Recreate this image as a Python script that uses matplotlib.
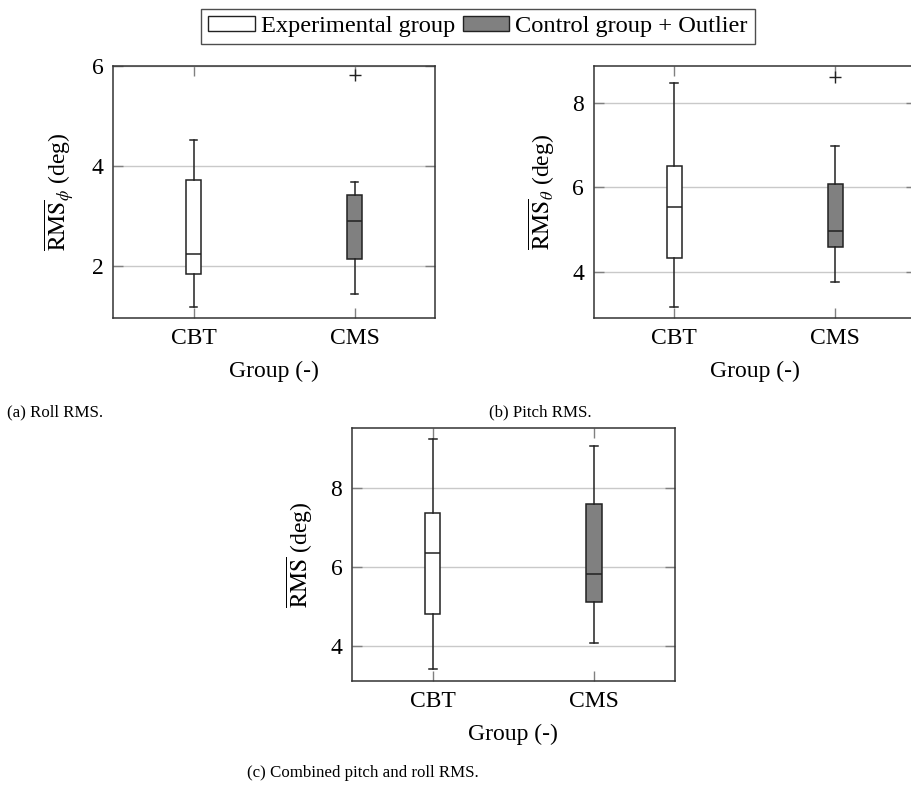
import matplotlib
matplotlib.use("Agg")
import matplotlib.pyplot as plt
from matplotlib.patches import Patch

plt.rcParams['font.family'] = ['Liberation Serif', 'DejaVu Serif']
plt.rcParams['mathtext.fontset'] = 'stix'

# group labels
groups = ["CBT", "CMS"]

# box statistics: [whislo, q1, med, q3, whishi]
roll_cbt = [1.19, 1.85, 2.24, 3.73, 4.53]
roll_cms = [1.45, 2.14, 2.90, 3.42, 3.69]
roll_outliers = [[], [5.83]]

pitch_cbt = [3.18, 4.34, 5.53, 6.51, 8.45]
pitch_cms = [3.78, 4.60, 4.97, 6.08, 6.98]
pitch_outliers = [[], [8.59]]

comb_cbt = [3.41, 4.81, 6.37, 7.36, 9.24]
comb_cms = [4.07, 5.11, 5.82, 7.61, 9.08]
comb_outliers = [[], []]

FS = 17
GRID = '#c9c9c9'
TICK = '#808080'
FILL = ['white', '#808080']


def stats(vals, fl):
    lo, q1, med, q3, hi = vals
    return dict(whislo=lo, q1=q1, med=med, q3=q3, whishi=hi, fliers=fl)


def draw(ax, cbt, cms, outl, ylim, yticks, ylabel):
    st = [stats(cbt, outl[0]), stats(cms, outl[1])]
    bp = ax.bxp(st, positions=[1, 2], widths=0.095, patch_artist=True,
                showfliers=True, manage_ticks=False,
                boxprops=dict(edgecolor='#222222', linewidth=1.1),
                medianprops=dict(color='#222222', linewidth=1.1),
                whiskerprops=dict(color='#222222', linewidth=1.1),
                capprops=dict(color='#222222', linewidth=1.1),
                flierprops=dict(marker='+', markeredgecolor='#222222',
                                markersize=9, markeredgewidth=1.0))
    for patch, c in zip(bp['boxes'], FILL):
        patch.set_facecolor(c)
    ax.set_xlim(0.5, 2.5)
    ax.set_ylim(*ylim)
    ax.set_xticks([1, 2])
    ax.set_xticklabels(groups, fontsize=FS)
    ax.set_yticks(yticks)
    ax.set_yticklabels([str(t) for t in yticks], fontsize=FS)
    ax.yaxis.grid(True, color=GRID, linewidth=1.0)
    ax.set_axisbelow(True)
    ax.tick_params(direction='in', length=7.5, width=1.0, color=TICK,
                   top=True, right=True, pad=7)
    for s in ax.spines.values():
        s.set_color('#333333')
        s.set_linewidth(1.1)
    ax.set_xlabel("Group (-)", fontsize=FS, labelpad=9)
    ax.set_ylabel(ylabel, fontsize=FS, labelpad=11)


fig = plt.figure(figsize=(9.12, 7.85), dpi=100)

ax_a = fig.add_axes([0.1239, 0.5949, 0.3531, 0.3210])
ax_b = fig.add_axes([0.6511, 0.5949, 0.3531, 0.3210])
ax_c = fig.add_axes([0.3860, 0.1325, 0.3538, 0.3223])

draw(ax_a, roll_cbt, roll_cms, roll_outliers, (0.96, 6.0), [2, 4, 6],
     r"$\overline{\mathrm{RMS}}_{\phi}$ (deg)")
draw(ax_b, pitch_cbt, pitch_cms, pitch_outliers, (2.92, 8.86), [4, 6, 8],
     r"$\overline{\mathrm{RMS}}_{\theta}$ (deg)")
draw(ax_c, comb_cbt, comb_cms, comb_outliers, (3.11, 9.53), [4, 6, 8],
     r"$\overline{\mathrm{RMS}}$ (deg)")

# sub captions
fig.text(7 / 912, 1 - 412 / 785, "(a) Roll RMS.", fontsize=12.2, va='center', ha='left')
fig.text(489 / 912, 1 - 412 / 785, "(b) Pitch RMS.", fontsize=12.2, va='center', ha='left')
fig.text(247 / 912, 1 - 773 / 785, "(c) Combined pitch and roll RMS.", fontsize=12.2,
         va='center', ha='left')

# shared legend
handles = [Patch(facecolor='white', edgecolor='#222222', linewidth=1.0),
           Patch(facecolor='#808080', edgecolor='#222222', linewidth=1.0)]
leg = fig.legend(handles, ["Experimental group", "Control group + Outlier"],
                 loc='center', bbox_to_anchor=(478 / 912, 1 - 26.5 / 785), ncol=2,
                 fontsize=17.6, frameon=True, fancybox=False, handlelength=1.9,
                 handleheight=0.55, handletextpad=0.25, columnspacing=0.3,
                 borderpad=0.3, borderaxespad=0)
leg.get_frame().set_edgecolor('#222222')
leg.get_frame().set_linewidth(1.0)

fig.savefig("out.png", dpi=100)
